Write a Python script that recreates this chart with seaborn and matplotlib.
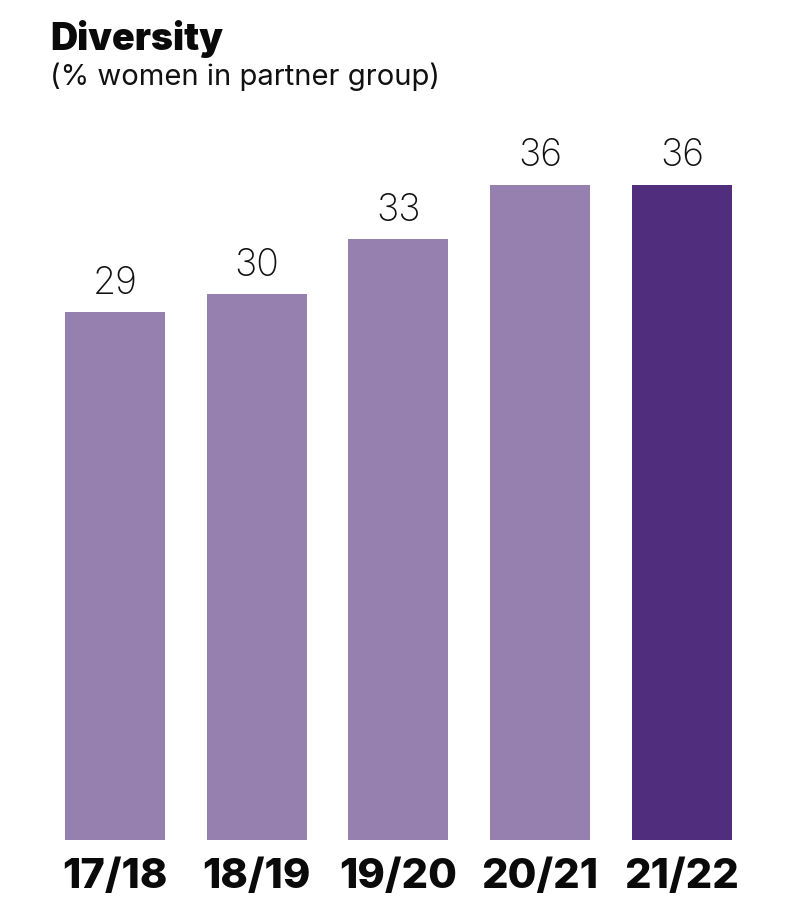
import matplotlib
matplotlib.use("Agg")
import matplotlib.pyplot as plt
import seaborn as sns
import pandas as pd

years = ["17/18", "18/19", "19/20", "20/21", "21/22"]
women_pct = [29, 30, 33, 36, 36]
bar_colors = ["#9580b0", "#9580b0", "#9580b0", "#9580b0", "#512d7d"]

sns.set_theme(style="white")
plt.rcParams["font.family"] = ["Inter", "DejaVu Sans"]

df = pd.DataFrame({"year": years, "pct": women_pct})

fig = plt.figure(figsize=(7.94, 8.98), dpi=100)
ax = fig.add_axes([0.0555, 0.0646, 0.8926, 0.8107])

sns.barplot(data=df, x="year", y="pct", hue="year", palette=bar_colors,
            width=0.705, legend=False, ax=ax, saturation=1, linewidth=0)

ax.set_xlim(-0.5, 4.5)
ax.set_ylim(0, 40)
ax.set_xlabel("")
ax.set_ylabel("")
ax.set_yticks([])
for s in ax.spines.values():
    s.set_visible(False)

ax.tick_params(axis="x", length=0, pad=13)
for lbl in ax.get_xticklabels():
    lbl.set_fontsize(30)
    lbl.set_fontweight(800)
    lbl.set_color("#0a0a0a")

for container in ax.containers:
    ax.bar_label(container, fmt="%d", padding=7.5, fontsize=27,
                 fontweight="light", color="#111111")

fig.text(0.063, 0.944, "Diversity", fontsize=27, fontweight="black",
         color="#0a0a0a", va="baseline")
fig.text(0.063, 0.905, "(% women in partner group)", fontsize=21,
         fontweight="normal", color="#111111", va="baseline")

fig.savefig("out.png", dpi=100)
